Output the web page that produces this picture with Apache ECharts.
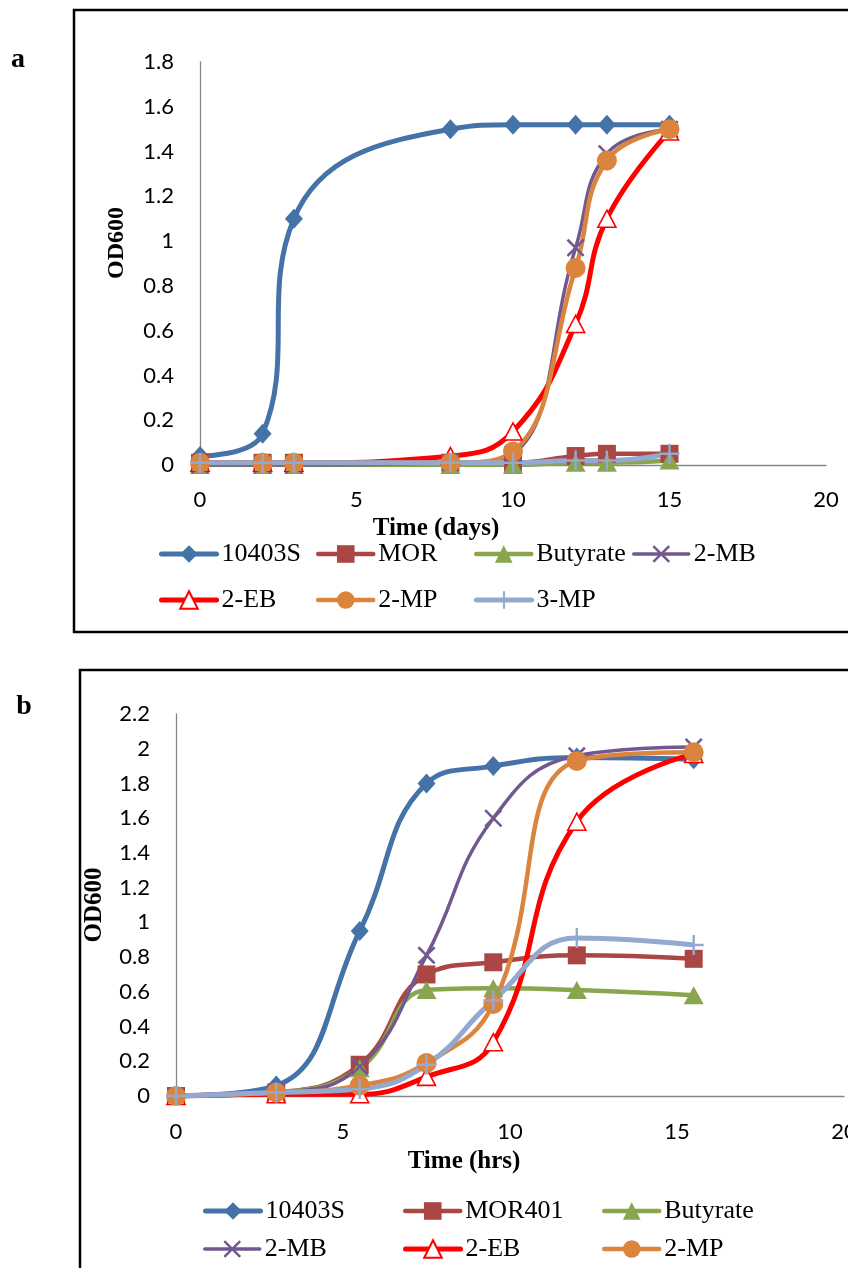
<!DOCTYPE html>
<html>
<head>
<meta charset="utf-8">
<script src="https://cdn.jsdelivr.net/npm/echarts@6/dist/echarts.min.js"></script>
<style>
html, body { margin: 0; padding: 0; background: #fff; }
#chart { width: 848px; height: 1268px; }
</style>
</head>
<body>
<div id="chart"></div>
<script>
// panel a - time in days
const daysA = [0, 2, 3, 8, 10, 12, 13, 15];
const a10403S  = [0.04, 0.14, 1.10, 1.50, 1.52, 1.52, 1.52, 1.52];
const aMOR     = [0.01, 0.01, 0.01, 0.01, 0.01, 0.04, 0.05, 0.05];
const aButyrate = [0, 0, 0, 0, 0, 0.01, 0.01, 0.02];
const a2MB     = [0, 0, 0, 0.01, 0.05, 0.97, 1.39, 1.50];
const a2EB     = [0.01, 0.01, 0.01, 0.04, 0.15, 0.63, 1.10, 1.49];
const a2MP     = [0.01, 0.01, 0.01, 0.01, 0.06, 0.88, 1.36, 1.50];
const a3MP     = [0.01, 0.01, 0.01, 0.01, 0.01, 0.02, 0.02, 0.05];

// panel b - time in hours
const hrsB = [0, 3, 5.5, 7.5, 9.5, 12, 15.5];
const b10403S  = [0, 0.06, 0.95, 1.80, 1.90, 1.95, 1.94];
const bMOR401  = [0, 0.02, 0.18, 0.70, 0.77, 0.81, 0.79];
const bButyrate = [0, 0.02, 0.16, 0.61, 0.62, 0.61, 0.58];
const b2MB     = [0, 0.02, 0.17, 0.81, 1.60, 1.96, 2.01];
const b2EB     = [0, 0.01, 0.01, 0.11, 0.31, 1.58, 1.97];
const b2MP     = [0, 0.02, 0.06, 0.19, 0.53, 1.93, 1.98];
const b3MP     = [0, 0.02, 0.04, 0.18, 0.55, 0.91, 0.87];

const xTicksA = [0, 5, 10, 15, 20];
const yTicksA = [0, 0.2, 0.4, 0.6, 0.8, 1, 1.2, 1.4, 1.6, 1.8];
const xTicksB = [0, 5, 10, 15, 20];
const yTicksB = [0, 0.2, 0.4, 0.6, 0.8, 1, 1.2, 1.4, 1.6, 1.8, 2, 2.2];

const legendRowsA = [['10403S', 'MOR', 'Butyrate', '2-MB'], ['2-EB', '2-MP', '3-MP']];
const legendRowsB = [['10403S', 'MOR401', 'Butyrate'], ['2-MB', '2-EB', '2-MP']];

const X_PATH = 'path://M1,0 L5,4 L9,0 L10,1 L6,5 L10,9 L9,10 L5,6 L1,10 L0,9 L4,5 L0,1 Z';
const PLUS_PATH = 'path://M4.4,0 L5.6,0 L5.6,4.4 L10,4.4 L10,5.6 L5.6,5.6 L5.6,10 L4.4,10 L4.4,5.6 L0,5.6 L0,4.4 L4.4,4.4 Z';

const look = {
    '10403S':   { color: '#4572A7', symbol: 'diamond', size: [18, 20], width: 5 },
    'MOR':      { color: '#AA4643', symbol: 'rect', size: 18, width: 4.5 },
    'MOR401':   { color: '#AA4643', symbol: 'rect', size: 18, width: 4.5 },
    'Butyrate': { color: '#89A54E', symbol: 'triangle', size: [20, 18], width: 4.5 },
    '2-MB':     { color: '#71588F', symbol: X_PATH, size: 18, width: 3.5 },
    '2-EB':     { color: '#FF0000', symbol: 'triangle', size: [18, 17], width: 5, hollow: true },
    '2-MP':     { color: '#DB843D', symbol: 'circle', size: 20, width: 4.5 },
    '3-MP':     { color: '#93A9CF', symbol: PLUS_PATH, size: 20, width: 5 }
};

const SERIF = "'Liberation Serif', 'Times New Roman', serif";
const SANS = "Lato, 'Liberation Sans', sans-serif";

function mkSeries(name, xs, ys, idx) {
    const s = look[name];
    return {
        name: name,
        type: 'line',
        xAxisIndex: idx,
        yAxisIndex: idx,
        smooth: 0.45,
        data: xs.map((x, i) => [x, ys[i]]),
        symbol: s.symbol,
        symbolSize: s.size,
        lineStyle: { color: s.color, width: s.width },
        itemStyle: s.hollow
            ? { color: '#fff', borderColor: s.color, borderWidth: 1.6 }
            : { color: s.color },
        emphasis: { disabled: true }
    };
}

function mkLegends(rows, cols, rowTops) {
    let out = [];
    rows.forEach((row, r) => {
        row.forEach((name, c) => {
            out.push({
                data: [name],
                left: cols[c],
                top: rowTops[r],
                padding: 0,
                itemWidth: 55,
                itemHeight: 22,
                selectedMode: false,
                lineStyle: { width: look[name].width, cap: 'round' },
                textStyle: { fontFamily: SERIF, fontSize: 26, color: '#000' }
            });
        });
    });
    return out;
}

function axisX(ticks, idx, margin) {
    return {
        type: 'value', gridIndex: idx,
        min: ticks[0], max: ticks[ticks.length - 1], interval: ticks[1] - ticks[0],
        axisLine: { show: true, lineStyle: { color: '#868686', width: 1.3 } },
        axisTick: { show: false },
        splitLine: { show: false },
        axisLabel: { fontFamily: SANS, fontSize: 22, color: '#000', margin: margin }
    };
}

function axisY(ticks, idx) {
    return {
        type: 'value', gridIndex: idx,
        min: ticks[0], max: ticks[ticks.length - 1], interval: 0.2,
        axisLine: { show: true, lineStyle: { color: '#868686', width: 1.3 } },
        axisTick: { show: false },
        splitLine: { show: false },
        axisLabel: { fontFamily: SANS, fontSize: 22, color: '#000', margin: 26 }
    };
}

let myChart = echarts.init(document.getElementById('chart'));

let series = [
    mkSeries('10403S', daysA, a10403S, 0),
    mkSeries('MOR', daysA, aMOR, 0),
    mkSeries('Butyrate', daysA, aButyrate, 0),
    mkSeries('2-MB', daysA, a2MB, 0),
    mkSeries('2-EB', daysA, a2EB, 0),
    mkSeries('2-MP', daysA, a2MP, 0),
    mkSeries('3-MP', daysA, a3MP, 0),
    mkSeries('10403S', hrsB, b10403S, 1),
    mkSeries('MOR401', hrsB, bMOR401, 1),
    mkSeries('Butyrate', hrsB, bButyrate, 1),
    mkSeries('2-MB', hrsB, b2MB, 1),
    mkSeries('2-EB', hrsB, b2EB, 1),
    mkSeries('2-MP', hrsB, b2MP, 1),
    mkSeries('3-MP', hrsB, b3MP, 1)
];

let option = {
    animation: false,
    backgroundColor: '#fff',
    grid: [
        { left: 200, top: 62, width: 626, height: 403, outerBoundsMode: 'none' },
        { left: 176, top: 714, width: 668, height: 382, outerBoundsMode: 'none' }
    ],
    xAxis: [axisX(xTicksA, 0, 24), axisX(xTicksB, 1, 25)],
    yAxis: [axisY(yTicksA, 0), axisY(yTicksB, 1)],
    legend: mkLegends(legendRowsA, [159, 316, 474, 632], [541, 587])
        .concat(mkLegends(legendRowsB, [203, 403, 602], [1198, 1236])),
    graphic: [
        { type: 'rect', shape: { x: 74, y: 10, width: 820, height: 622 },
          style: { fill: 'none', stroke: '#000', lineWidth: 2.5 } },
        { type: 'rect', shape: { x: 80, y: 670, width: 820, height: 700 },
          style: { fill: 'none', stroke: '#000', lineWidth: 2.5 } },
        { type: 'text', x: 18, y: 60,
          style: { text: 'a', font: 'bold 28px ' + SERIF, fill: '#000', textAlign: 'center', textVerticalAlign: 'middle' } },
        { type: 'text', x: 24, y: 707,
          style: { text: 'b', font: 'bold 28px ' + SERIF, fill: '#000', textAlign: 'center', textVerticalAlign: 'middle' } },
        { type: 'text', x: 117, y: 243, rotation: Math.PI / 2,
          style: { text: 'OD600', font: 'bold 24px ' + SERIF, fill: '#000', textAlign: 'center', textVerticalAlign: 'middle' } },
        { type: 'text', x: 95, y: 905, rotation: Math.PI / 2,
          style: { text: 'OD600', font: 'bold 25px ' + SERIF, fill: '#000', textAlign: 'center', textVerticalAlign: 'middle' } },
        { type: 'text', x: 436, y: 529,
          style: { text: 'Time (days)', font: 'bold 25px ' + SERIF, fill: '#000', textAlign: 'center', textVerticalAlign: 'middle' } },
        { type: 'text', x: 464, y: 1162,
          style: { text: 'Time (hrs)', font: 'bold 25px ' + SERIF, fill: '#000', textAlign: 'center', textVerticalAlign: 'middle' } }
    ],
    series: series
};
myChart.setOption(option);
</script>
</body>
</html>
